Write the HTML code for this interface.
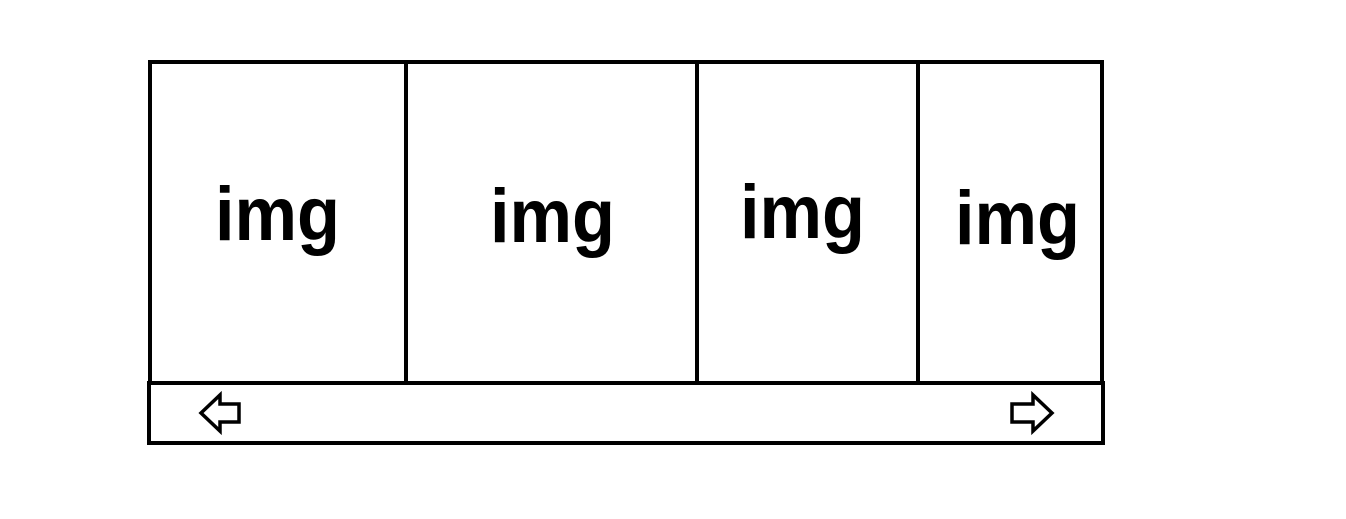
<!DOCTYPE html>
<html><head><meta charset="utf-8"><style>
html,body{margin:0;padding:0;background:#fff;width:1346px;height:519px;overflow:hidden}
svg{display:block}
text{font-family:"Liberation Sans",sans-serif;font-weight:bold;font-size:76px;fill:#000}
</style></head><body>
<svg width="1346" height="519" viewBox="0 0 1346 519">
<g fill="none" stroke="#000" stroke-width="4">
<rect x="150" y="62" width="952" height="321"/>
<line x1="406" y1="62" x2="406" y2="383"/>
<line x1="697" y1="62" x2="697" y2="383"/>
<line x1="918" y1="62" x2="918" y2="383"/>
<rect x="149" y="383" width="954" height="60"/>
<polygon points="201,413 220,395 220,404 239,404 239,422 220,422 220,431" stroke-width="3.5"/>
<polygon points="1052,413 1033,395 1033,404 1012,404 1012,422 1033,422 1033,431" stroke-width="3.5"/>
</g>
<text x="215" y="240" textLength="125" lengthAdjust="spacingAndGlyphs">img</text>
<text x="490" y="242" textLength="125" lengthAdjust="spacingAndGlyphs">img</text>
<text x="740" y="238" textLength="125" lengthAdjust="spacingAndGlyphs">img</text>
<text x="955" y="244" textLength="125" lengthAdjust="spacingAndGlyphs">img</text>
</svg>
</body></html>
